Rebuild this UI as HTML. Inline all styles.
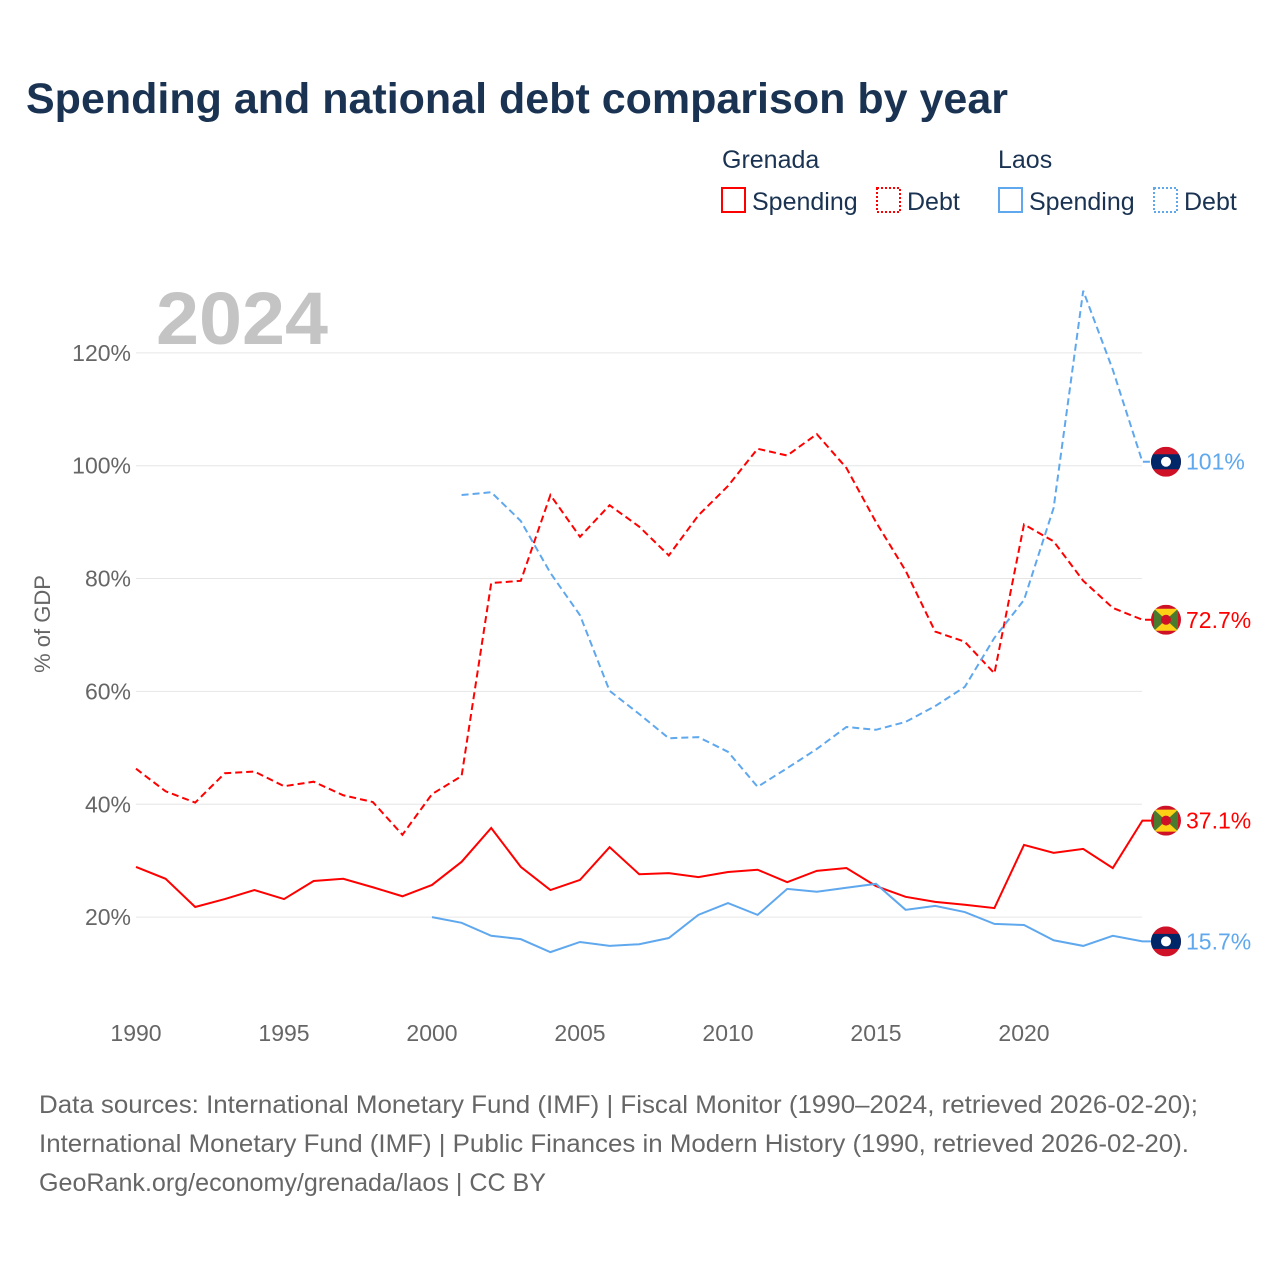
<!DOCTYPE html>
<html><head><meta charset="utf-8"><style>
body{margin:0;background:#fff;width:1280px;height:1280px;overflow:hidden;font-family:"Liberation Sans",sans-serif}
</style></head><body>
<svg id="chart" width="1280" height="1280" xmlns="http://www.w3.org/2000/svg" font-family="Liberation Sans, sans-serif">
<text x="26" y="113" font-size="43" font-weight="bold" fill="#1a3352" textLength="982" lengthAdjust="spacingAndGlyphs">Spending and national debt comparison by year</text>
<g font-size="25" fill="#1a3352">
<text x="722" y="168">Grenada</text>
<text x="998" y="168">Laos</text>
<rect x="722" y="188" width="23" height="24" fill="none" stroke="#f00" stroke-width="2"/>
<text x="752" y="210">Spending</text>
<rect x="877" y="188" width="23" height="24" fill="none" stroke="#f00" stroke-width="2" stroke-dasharray="2,2"/>
<text x="907" y="210">Debt</text>
<rect x="999" y="188" width="23" height="24" fill="none" stroke="#5fa8ee" stroke-width="2"/>
<text x="1029" y="210">Spending</text>
<rect x="1154" y="188" width="23" height="24" fill="none" stroke="#5fa8ee" stroke-width="2" stroke-dasharray="2,2"/>
<text x="1184" y="210">Debt</text>
</g>
<text x="156" y="344" font-size="74" font-weight="bold" fill="#c4c4c4" textLength="172" lengthAdjust="spacingAndGlyphs">2024</text>
<text transform="translate(50,624) rotate(-90)" text-anchor="middle" font-size="22" fill="#666">% of GDP</text>
<g id="grid"></g><g id="marks"></g>
<g font-size="25" fill="#666">
<text x="39" y="1113" textLength="1159" lengthAdjust="spacingAndGlyphs">Data sources: International Monetary Fund (IMF) | Fiscal Monitor (1990–2024, retrieved 2026-02-20);</text>
<text x="39" y="1152" textLength="1150" lengthAdjust="spacingAndGlyphs">International Monetary Fund (IMF) | Public Finances in Modern History (1990, retrieved 2026-02-20).</text>
<text x="39" y="1191" textLength="507" lengthAdjust="spacingAndGlyphs">GeoRank.org/economy/grenada/laos | CC BY</text>
</g>
</svg>
<script>
const yTicks=[20,40,60,80,100,120];
const xTicks=[1990,1995,2000,2005,2010,2015,2020];
const grenadaYears=[1990,1991,1992,1993,1994,1995,1996,1997,1998,1999,2000,2001,2002,2003,2004,2005,2006,2007,2008,2009,2010,2011,2012,2013,2014,2015,2016,2017,2018,2019,2020,2021,2022,2023,2024];
const grenadaDebt=[46.3,42.3,40.3,45.5,45.8,43.2,44.0,41.6,40.4,34.6,41.8,45.0,79.2,79.6,94.8,87.4,93.0,89.2,84.1,91.2,96.4,103.0,101.8,105.6,99.6,90.0,81.4,70.6,68.8,63.2,89.6,86.6,79.6,74.8,72.7];
const grenadaSpending=[28.9,26.8,21.8,23.2,24.8,23.2,26.4,26.8,25.3,23.7,25.7,29.8,35.8,28.9,24.8,26.6,32.4,27.6,27.8,27.1,28.0,28.4,26.2,28.2,28.7,25.5,23.6,22.7,22.2,21.6,32.8,31.4,32.1,28.7,37.1];
const laosDebtYears=[2001,2002,2003,2004,2005,2006,2007,2008,2009,2010,2011,2012,2013,2014,2015,2016,2017,2018,2019,2020,2021,2022,2023,2024];
const laosDebt=[94.8,95.3,90.2,81.0,73.5,60.1,56.0,51.7,51.9,49.3,43.1,46.4,49.8,53.7,53.2,54.6,57.4,60.8,69.5,76.2,92.5,131.0,117.0,100.7];
const laosSpendYears=[2000,2001,2002,2003,2004,2005,2006,2007,2008,2009,2010,2011,2012,2013,2014,2015,2016,2017,2018,2019,2020,2021,2022,2023,2024];
const laosSpending=[20.0,19.0,16.7,16.1,13.8,15.6,14.9,15.2,16.3,20.4,22.5,20.4,25.0,24.5,25.2,25.9,21.3,22.0,20.9,18.8,18.6,15.9,14.9,16.7,15.7];
const endLabels=["101%","72.7%","37.1%","15.7%"];
const NS="http://www.w3.org/2000/svg";
const X=y=>136+(y-1990)*29.6, Y=v=>1030-v*5.643;
function mk(t,a,p){const e=document.createElementNS(NS,t);for(const k in a)e.setAttribute(k,a[k]);p.appendChild(e);return e;}
const grid=document.getElementById('grid'),marks=document.getElementById('marks');
yTicks.forEach(v=>{
 const l=mk('line',{x1:136,x2:1142,y1:Y(v),y2:Y(v),stroke:'#e6e6e6','stroke-width':1},grid);
 
 
 const t=mk('text',{x:131,y:Y(v)+8,'text-anchor':'end','font-size':23,fill:'#666'},grid);t.textContent=v+'%';
 
 
});
xTicks.forEach(v=>{
 const t=mk('text',{x:X(v),y:1041,'text-anchor':'middle','font-size':23,fill:'#666'},grid);t.textContent=v;
 
 
});
function series(xs,vs,col,dash,name,label,flag){
 const d=xs.map((x,i)=>(i?'L':'M')+X(x)+','+Y(vs[i])).join(' ')+' L'+(X(xs[xs.length-1])+10)+','+Y(vs[vs.length-1]);
 const p=mk('path',{d:d,fill:'none',stroke:col,'stroke-width':2,'stroke-dasharray':dash?'7,4':'none'},marks);
 
 
 const cy=Y(vs[vs.length-1]),cx=1166;
 const g=mk('g',{},marks);
 
 
 const cp=mk('clipPath',{id:name+'c'},g);mk('circle',{cx:cx,cy:cy,r:15},cp);
 const gg=mk('g',{'clip-path':'url(#'+name+'c)'},g);
 if(flag==='laos'){mk('rect',{x:cx-15,y:cy-15,width:30,height:30,fill:'#ce1126'},gg);mk('rect',{x:cx-15,y:cy-7.5,width:30,height:15,fill:'#002868'},gg);mk('circle',{cx:cx,cy:cy,r:5,fill:'#fff'},gg);}
 else{mk('rect',{x:cx-15,y:cy-15,width:30,height:30,fill:'#ce1126'},gg);mk('rect',{x:cx-12,y:cy-11,width:24,height:22,fill:'#fcd116'},gg);mk('path',{d:`M${cx-12},${cy-11}L${cx},${cy}L${cx-12},${cy+11}Z M${cx+12},${cy-11}L${cx},${cy}L${cx+12},${cy+11}Z`,fill:'#4a7a2e'},gg);mk('circle',{cx:cx,cy:cy,r:5,fill:'#ce1126'},gg);}
 const t=mk('text',{x:1186,y:cy+8,'font-size':23,fill:col},marks);t.textContent=label;
 
 
}
series(grenadaYears,grenadaDebt,'#f00',true,'grenada-debt-line',endLabels[1],'grenada');
series(grenadaYears,grenadaSpending,'#f00',false,'grenada-spending-line',endLabels[2],'grenada');
series(laosDebtYears,laosDebt,'#5fa8ee',true,'laos-debt-line',endLabels[0],'laos');
series(laosSpendYears,laosSpending,'#5fa8ee',false,'laos-spending-line',endLabels[3],'laos');
</script>
</body></html>
